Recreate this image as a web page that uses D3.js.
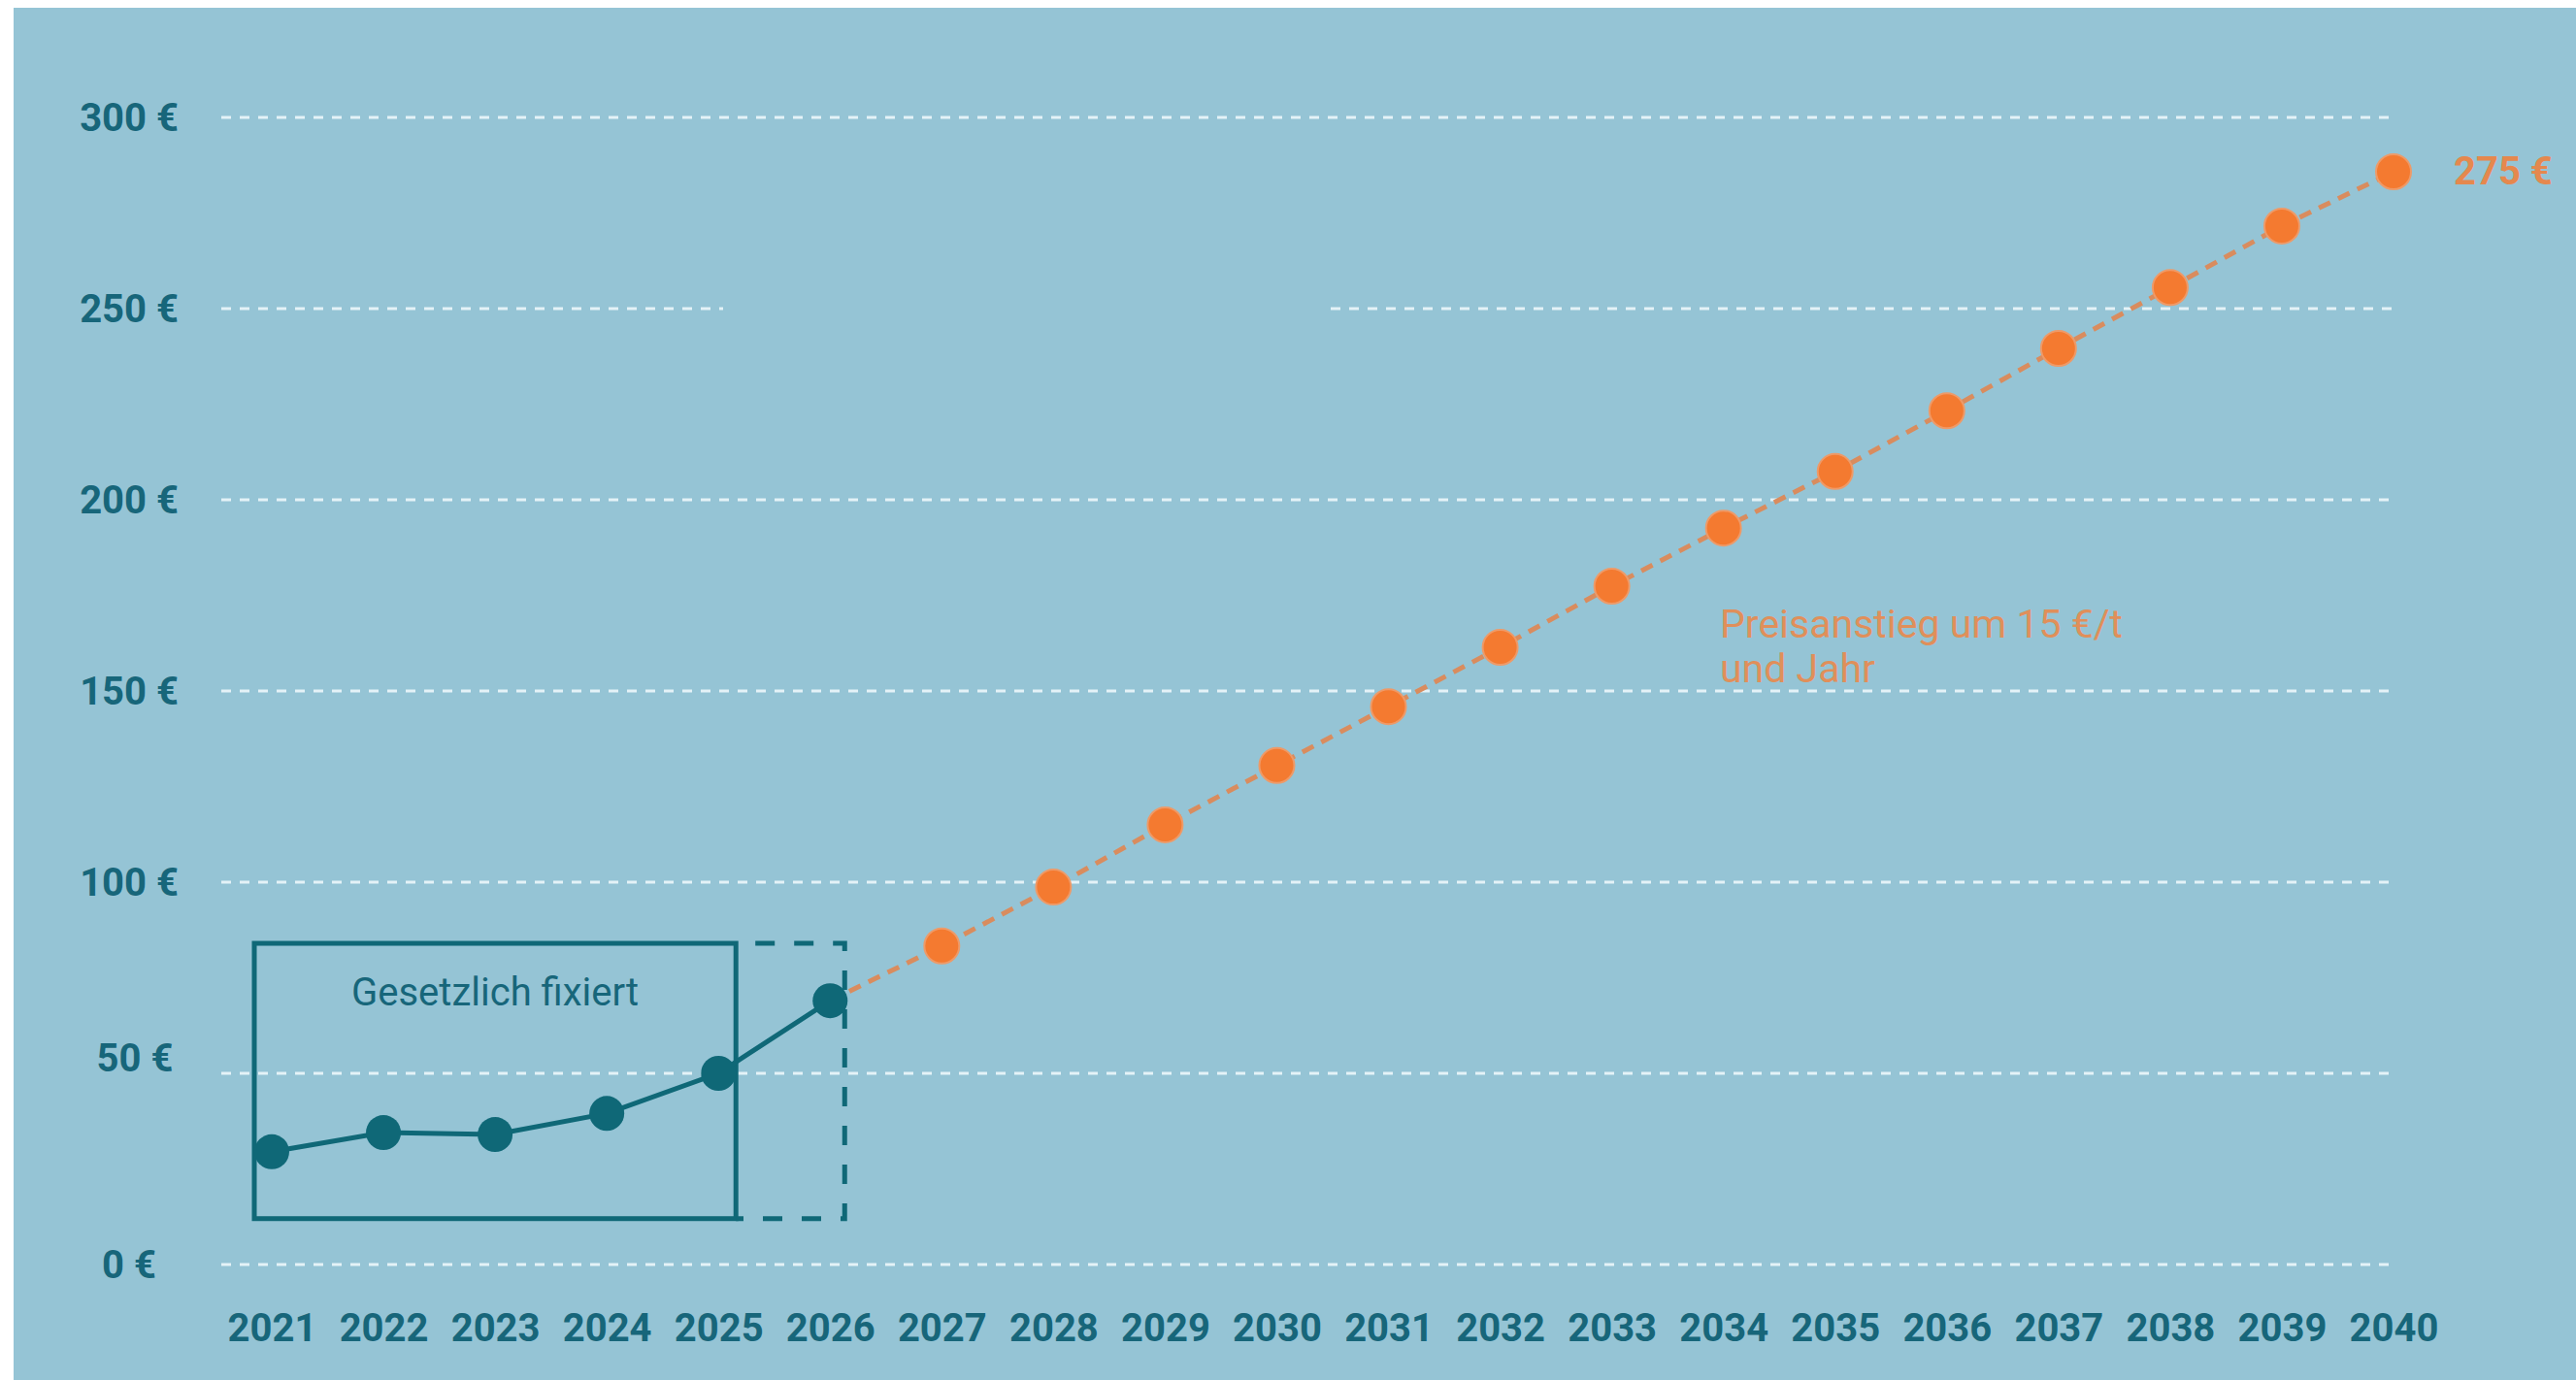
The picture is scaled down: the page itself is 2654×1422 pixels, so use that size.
<!DOCTYPE html>
<html>
<head>
<meta charset="utf-8">
<script src="https://cdn.jsdelivr.net/npm/d3@7"></script>
<style>
  body { margin: 0; background: #ffffff; }
  svg { display: block; }
  svg text { font-family: Roboto, "Noto Sans", sans-serif; }
  .grid line { stroke: #e4f2f7; stroke-width: 3; stroke-dasharray: 10,9; }
  .yaxis text, .xaxis text { fill: #17667a; font-weight: 700; font-size: 40px; }
</style>
</head>
<body>
<script>
//////////////// Data ////////////////////
var years = [2021, 2022, 2023, 2024, 2025, 2026, 2027, 2028, 2029, 2030,
             2031, 2032, 2033, 2034, 2035, 2036, 2037, 2038, 2039, 2040];
var fixedYears = [2021, 2022, 2023, 2024, 2025, 2026];
var fixedPrices = [29.5, 34.5, 34, 39.5, 50, 69];          // €/t, gesetzlich fixiert
var forecastYears = [2026, 2027, 2028, 2029, 2030, 2031, 2032, 2033,
                     2034, 2035, 2036, 2037, 2038, 2039, 2040];
var forecastPrices = [69, 83.3, 98.7, 115, 130.5, 145.9, 161.4, 177.4,
                      192.6, 207.4, 223.3, 239.6, 255.5, 271.6, 285.8];
var yTicks = [0, 50, 100, 150, 200, 250, 300];
var endLabel = "275 €";
var fixedLabel = "Gesetzlich fixiert";
var riseLabel = ["Preisanstieg um 15 €/t", "und Jahr"];
// box around the fixed years (values in €)
var boxTop = 84, boxBottom = 12;

//////////////// Layout ////////////////////
var W = 2654, H = 1422;
var gridX0 = 228, gridX1 = 2467;
var gap250 = [745, 1371];   // gridline at 250 € is interrupted here

var svg = d3.select("body").append("svg")
  .attr("width", W)
  .attr("height", H);

svg.append("rect")
  .attr("x", 14).attr("y", 8)
  .attr("width", W - 14).attr("height", H - 8)
  .attr("fill", "#95c4d5");

//////////////// Scales ////////////////////
var x = d3.scaleLinear().domain([2021, 2040]).range([280, 2466]);
var y = d3.scaleLinear().domain([0, 300]).range([1303, 121]);

//////////////// Gridlines ////////////////////
var segs = [];
yTicks.forEach(function(t) {
  if (t === 250) {
    segs.push({v: t, x0: gridX0, x1: gap250[0]});
    segs.push({v: t, x0: gap250[1], x1: gridX1});
  } else {
    segs.push({v: t, x0: gridX0, x1: gridX1});
  }
});
svg.append("g").attr("class", "grid")
  .selectAll("line")
  .data(segs)
  .enter().append("line")
    .attr("x1", function(d) { return d.x0; })
    .attr("x2", function(d) { return d.x1; })
    .attr("y1", function(d) { return y(d.v); })
    .attr("y2", function(d) { return y(d.v); });

//////////////// Axes ////////////////////
var yAxis = d3.axisLeft(y)
  .tickValues(yTicks)
  .tickFormat(function(d) { return d + " €"; })
  .tickSize(0).tickPadding(0);
var yG = svg.append("g").attr("class", "yaxis")
  .attr("transform", "translate(133,0)")
  .call(yAxis);
yG.select(".domain").remove();
yG.selectAll("text")
  .style("text-anchor", "middle")
  .attr("dx", function(d) { return d === 50 ? 6 : 0; })
  .attr("dy", function(d) { return d === 50 ? "-0.06em" : "0.33em"; });

var xAxis = d3.axisBottom(x)
  .tickValues(years)
  .tickFormat(d3.format("d"))
  .tickSize(0).tickPadding(0);
var xG = svg.append("g").attr("class", "xaxis")
  .attr("transform", "translate(0,1354)")
  .call(xAxis);
xG.select(".domain").remove();

//////////////// Box ////////////////////
var teal = "#0f6877";
var pad = 18;
var bx0 = x(2021) - pad, bx1 = x(2025) + pad, bx2 = x(2026) + 15;
svg.append("rect")
  .attr("x", bx0).attr("y", y(boxTop))
  .attr("width", bx1 - bx0).attr("height", y(boxBottom) - y(boxTop))
  .attr("fill", "none")
  .attr("stroke", teal)
  .attr("stroke-width", 5);
svg.append("path")
  .attr("d", "M" + bx1 + "," + y(boxTop) + "H" + bx2 + "V" + y(boxBottom) + "H" + bx1)
  .attr("fill", "none")
  .attr("stroke", teal)
  .attr("stroke-width", 5)
  .attr("stroke-dasharray", "20,20")
  .attr("stroke-dashoffset", 20);

svg.append("text")
  .attr("x", (bx0 + bx1) / 2)
  .attr("y", 1036)
  .attr("text-anchor", "middle")
  .attr("fill", "#17667a")
  .style("font-size", "40px")
  .text(fixedLabel);

//////////////// Lines ////////////////////
var line = d3.line()
  .x(function(d) { return x(d[0]); })
  .y(function(d) { return y(d[1]); });

var fixedData = d3.zip(fixedYears, fixedPrices);
var forecastData = d3.zip(forecastYears, forecastPrices);

svg.append("path")
  .datum(forecastData)
  .attr("d", line)
  .attr("fill", "none")
  .attr("stroke", "#d98c5e")
  .attr("stroke-width", 5)
  .attr("stroke-dasharray", "13,9");

svg.append("path")
  .datum(fixedData)
  .attr("d", line)
  .attr("fill", "none")
  .attr("stroke", teal)
  .attr("stroke-width", 5);

//////////////// Points ////////////////////
svg.append("g").selectAll("circle")
  .data(forecastData.slice(1))
  .enter().append("circle")
    .attr("cx", function(d) { return x(d[0]); })
    .attr("cy", function(d) { return y(d[1]); })
    .attr("r", 18)
    .attr("fill", "#f47a30")
    .attr("stroke", "#ee9a68")
    .attr("stroke-width", 2);

svg.append("g").selectAll("circle")
  .data(fixedData)
  .enter().append("circle")
    .attr("cx", function(d) { return x(d[0]); })
    .attr("cy", function(d) { return y(d[1]); })
    .attr("r", 18)
    .attr("fill", teal);

//////////////// Annotations ////////////////////
var last = forecastData[forecastData.length - 1];
svg.append("text")
  .attr("x", x(last[0]) + 62)
  .attr("y", y(last[1]))
  .attr("dy", "0.33em")
  .attr("fill", "#e5884e")
  .style("font-size", "40px")
  .style("font-weight", 700)
  .text(endLabel);

svg.append("text")
  .attr("fill", "#e08f5a")
  .style("font-size", "41px")
  .selectAll("tspan")
  .data(riseLabel)
  .enter().append("tspan")
    .attr("x", 1772)
    .attr("y", function(d, i) { return 657 + i * 46; })
    .text(function(d) { return d; });
</script>
</body>
</html>
